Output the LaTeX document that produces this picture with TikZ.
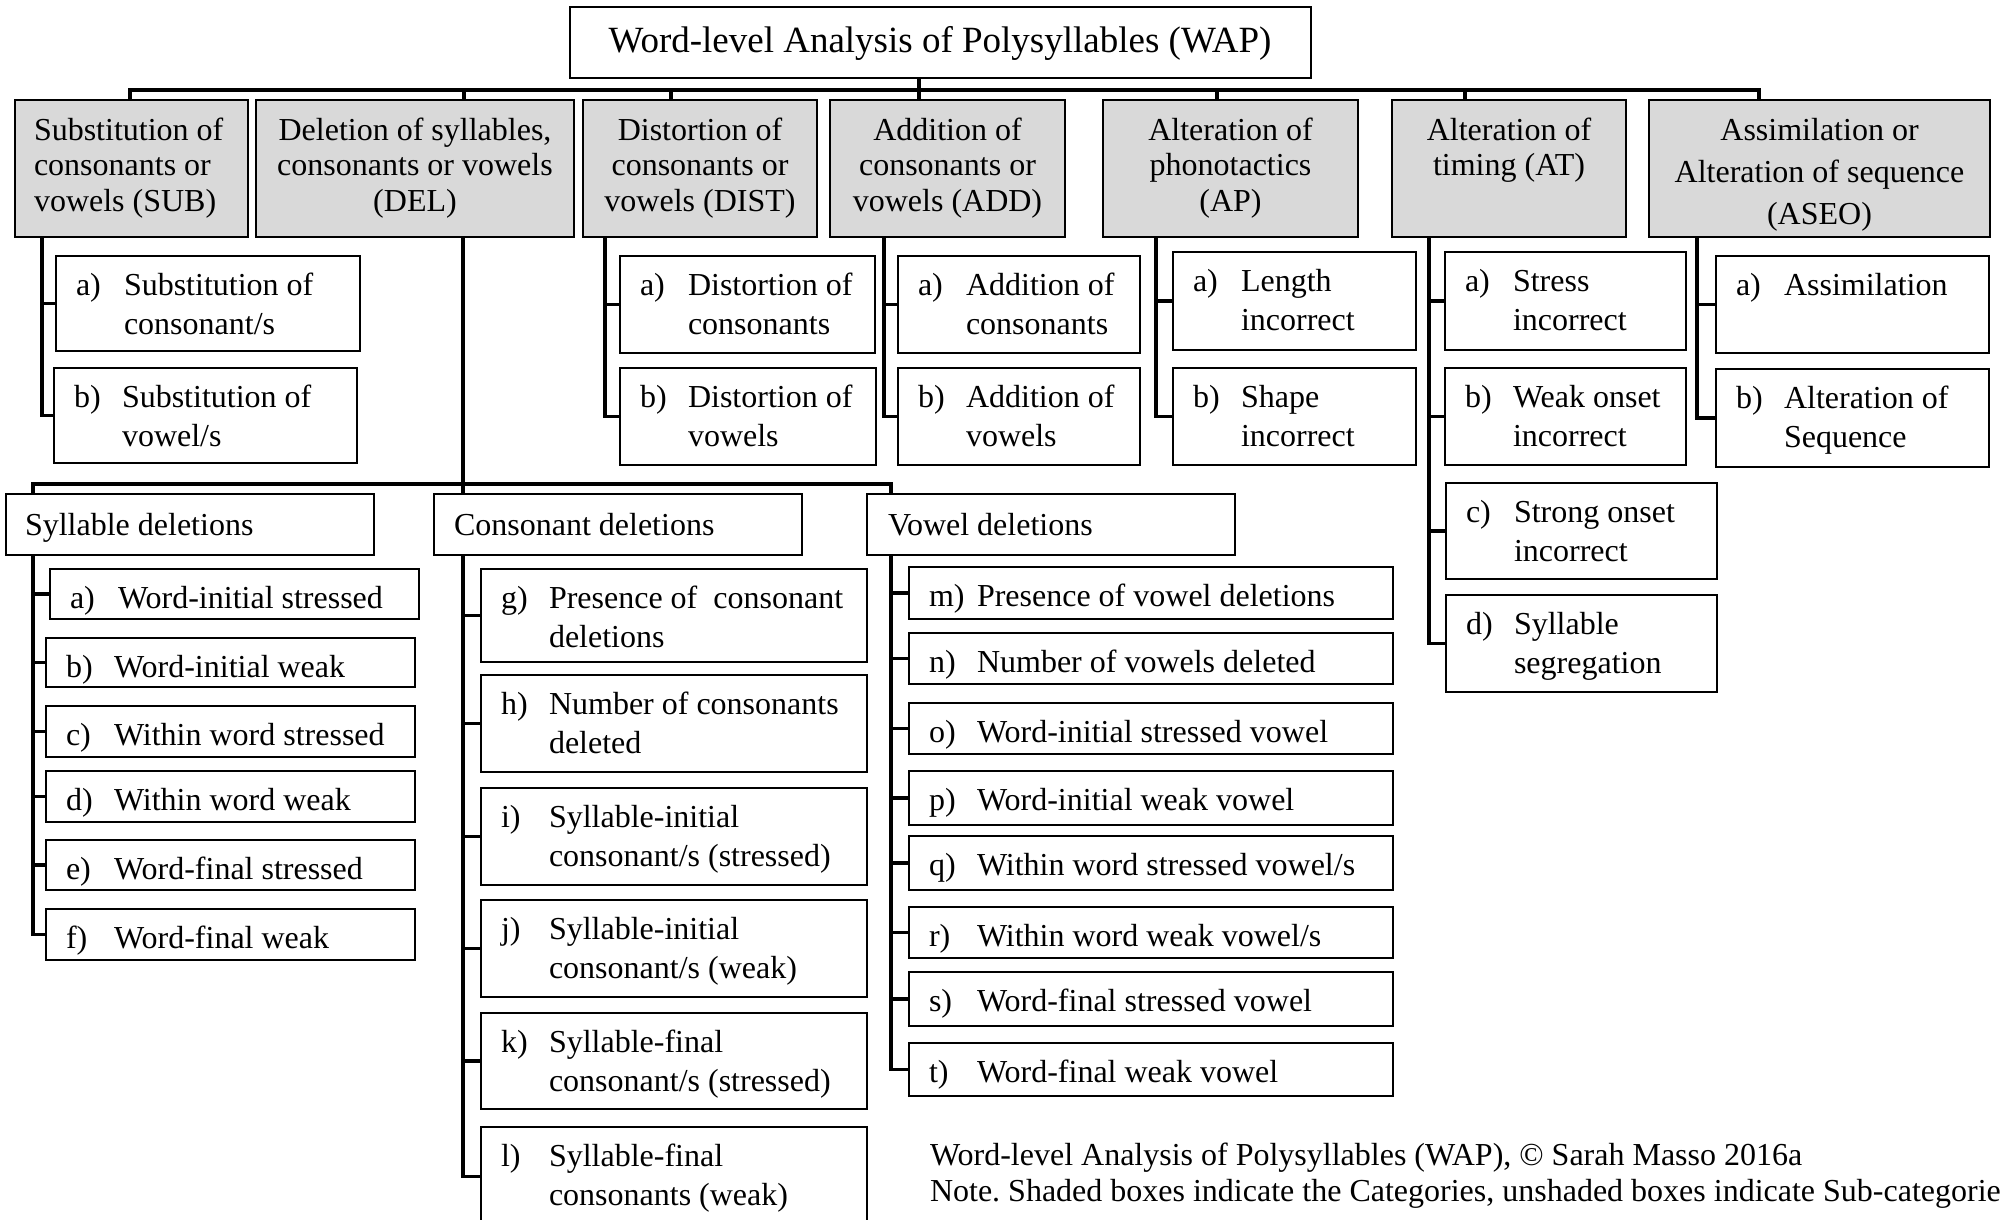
\documentclass[tikz,border=0pt]{standalone}
\usepackage{fontspec}
\setmainfont{Liberation Serif}
\usetikzlibrary{fit}
\definecolor{catgray}{RGB}{217,217,217}
\frenchspacing
\newcommand{\fsz}{\fontsize{32}{39}\selectfont}
\newcommand{\ftitle}{\fontsize{37}{44}\selectfont}
\tikzset{
  frame/.style={draw=black, line width=1.8pt, inner sep=0pt, outer sep=0pt},
  catbox/.style={frame, fill=catgray},
  subbox/.style={frame, fill=white},
  txt/.style={inner sep=0pt, outer sep=0pt, font=\fsz, anchor=base west},
  ctxt/.style={txt, anchor=base},
  conn/.style={draw=black, line width=3.3pt},
}
\newcommand{\boxone}[7]{%
  \node[subbox, fit={(#2,#3)(#4,#5)}] (#1) {};
  \node[txt] (#1-l) at ([xshift=20pt,yshift=-39pt]#1.north west) {#6};
  \node[txt] (#1-t) at ([xshift=68pt,yshift=-39pt]#1.north west) {#7};}
\newcommand{\boxtwo}[8]{%
  \boxone{#1}{#2}{#3}{#4}{#5}{#6}{#7}%
  \node[txt] (#1-u) at ([xshift=68pt,yshift=-78pt]#1.north west) {#8};}
\newcommand{\ctl}[4]{\node[ctxt] (#1) at (#2,#3) {#4};}
\begin{document}
\begin{tikzpicture}[x=1pt, y=-1pt]
\useasboundingbox (0,0) rectangle (2001,1219);
\clip (0,0) rectangle (2001,1219);

% ---------- title ----------
\node[frame, fit={(570,7)(1311,78)}] (title) {};
\node[ctxt, font=\ftitle] (title-t) at (940,52) {Word-level Analysis of Polysyllables (WAP)};

% ---------- categories ----------
\node[catbox, fit={(15,100)(248,237)}] (sub) {};
\node[catbox, fit={(256,100)(574,237)}] (del) {};
\node[catbox, fit={(583,100)(817,237)}] (dist) {};
\node[catbox, fit={(830,100)(1065,237)}] (add) {};
\node[catbox, fit={(1103,100)(1358,237)}] (ap) {};
\node[catbox, fit={(1392,100)(1626,237)}] (at) {};
\node[catbox, fit={(1649,100)(1990,237)}] (aseo) {};

\node[txt] (sub-1) at (34,140) {Substitution of};
\node[txt] (sub-2) at (34,175.5) {consonants or};
\node[txt] (sub-3) at (34,211) {vowels (SUB)};
\ctl{del-1}{415}{140}{Deletion of syllables,}
\ctl{del-2}{415}{175.5}{consonants or vowels}
\ctl{del-3}{415}{211}{(DEL)}
\ctl{dist-1}{700}{140}{Distortion of}
\ctl{dist-2}{700}{175.5}{consonants or}
\ctl{dist-3}{700}{211}{vowels (DIST)}
\ctl{add-1}{947.5}{140}{Addition of}
\ctl{add-2}{947.5}{175.5}{consonants or}
\ctl{add-3}{947.5}{211}{vowels (ADD)}
\ctl{ap-1}{1230.5}{140}{Alteration of}
\ctl{ap-2}{1230.5}{175.5}{phonotactics}
\ctl{ap-3}{1230.5}{211}{(AP)}
\ctl{at-1}{1509}{140}{Alteration of}
\ctl{at-2}{1509}{175.5}{timing (AT)}
\ctl{aseo-1}{1819.5}{140}{Assimilation or}
\ctl{aseo-2}{1819.5}{182}{Alteration of sequence}
\ctl{aseo-3}{1819.5}{224}{(ASEO)}

% ---------- first-level sub-categories ----------
\boxtwo{suba}{56}{256}{360}{351}{a)}{Substitution of}{consonant/s}
\boxtwo{subb}{54}{368}{357}{463}{b)}{Substitution of}{vowel/s}
\boxtwo{dista}{620}{256}{875}{353}{a)}{Distortion of}{consonants}
\boxtwo{distb}{620}{368}{876}{465}{b)}{Distortion of}{vowels}
\boxtwo{adda}{898}{256}{1140}{353}{a)}{Addition of}{consonants}
\boxtwo{addb}{898}{368}{1140}{465}{b)}{Addition of}{vowels}
\boxtwo{apa}{1173}{252}{1416}{350}{a)}{Length}{incorrect}
\boxtwo{apb}{1173}{368}{1416}{465}{b)}{Shape}{incorrect}
\boxtwo{ata}{1445}{252}{1686}{350}{a)}{Stress}{incorrect}
\boxtwo{atb}{1445}{368}{1686}{465}{b)}{Weak onset}{incorrect}
\boxtwo{atc}{1446}{483}{1717}{579}{c)}{Strong onset}{incorrect}
\boxtwo{atd}{1446}{595}{1717}{692}{d)}{Syllable}{segregation}
\boxone{aseoa}{1716}{256}{1989}{353}{a)}{Assimilation}
\boxtwo{aseob}{1716}{369}{1989}{467}{b)}{Alteration of}{Sequence}

% ---------- deletion groups ----------
\node[frame, fit={(6,494)(374,555)}] (syl) {};
\node[frame, fit={(434,494)(802,555)}] (con) {};
\node[frame, fit={(867,494)(1235,555)}] (vow) {};
\node[txt] (syl-t) at (25,535) {Syllable deletions};
\node[txt] (con-t) at (454,535) {Consonant deletions};
\node[txt] (vow-t) at (888,535) {Vowel deletions};

\boxone{syla}{50}{569}{419}{619}{a)}{Word-initial stressed}
\boxone{sylb}{46}{638}{415}{687}{b)}{Word-initial weak}
\boxone{sylc}{46}{706}{415}{757}{c)}{Within word stressed}
\boxone{syld}{46}{771}{415}{822}{d)}{Within word weak}
\boxone{syle}{46}{840}{415}{890}{e)}{Word-final stressed}
\boxone{sylf}{46}{909}{415}{960}{f)}{Word-final weak}

\boxtwo{cong}{481}{569}{867}{662}{g)}{Presence of~ consonant}{deletions}
\boxtwo{conh}{481}{675}{867}{772}{h)}{Number of consonants}{deleted}
\boxtwo{coni}{481}{788}{867}{885}{i)}{Syllable-initial}{consonant/s (stressed)}
\boxtwo{conj}{481}{900}{867}{997}{j)}{Syllable-initial}{consonant/s (weak)}
\boxtwo{conk}{481}{1013}{867}{1109}{k)}{Syllable-final}{consonant/s (stressed)}
\boxtwo{conl}{481}{1127}{867}{1226}{l)}{Syllable-final}{consonants (weak)}

\boxone{vowm}{909}{567}{1393}{619}{m)}{Presence of vowel deletions}
\boxone{vown}{909}{633}{1393}{684}{n)}{Number of vowels deleted}
\boxone{vowo}{909}{703}{1393}{754}{o)}{Word-initial stressed vowel}
\boxone{vowp}{909}{771}{1393}{825}{p)}{Word-initial weak vowel}
\boxone{vowq}{909}{836}{1393}{890}{q)}{Within word stressed vowel/s}
\boxone{vowr}{909}{907}{1393}{958}{r)}{Within word weak vowel/s}
\boxone{vows}{909}{972}{1393}{1026}{s)}{Word-final stressed vowel}
\boxone{vowt}{909}{1043}{1393}{1096}{t)}{Word-final weak vowel}

% ---------- footer ----------
\node[txt] (foot1) at (930,1165) {Word-level Analysis of Polysyllables (WAP), © Sarah Masso 2016a};
\node[txt] (foot2) at (930,1201) {Note. Shaded boxes indicate the Categories, unshaded boxes indicate Sub-categorie};

% ---------- connectors ----------
\coordinate (b1) at (130,90);
\coordinate (b2) at (464,90);
\coordinate (b3) at (671,90);
\coordinate (b4) at (919,90);
\coordinate (b5) at (1217,90);
\coordinate (b6) at (1465,90);
\coordinate (b7) at (1759,90);
\draw[conn] (b1 |- sub.north) -- (b1) -- (b7) -- (b7 |- aseo.north);
\draw[conn] (b2) -- (b2 |- del.north);
\draw[conn] (b3) -- (b3 |- dist.north);
\draw[conn] (title.south -| b4) -- (b4 |- add.north);
\draw[conn] (b5) -- (b5 |- ap.north);
\draw[conn] (b6) -- (b6 |- at.north);

\coordinate (subT) at (42,237);
\draw[conn] (subT) |- (suba.west);
\draw[conn] (subT) |- (subb.west);
\coordinate (distT) at (605,237);
\draw[conn] (distT) |- (dista.west);
\draw[conn] (distT) |- (distb.west);
\coordinate (addT) at (884,237);
\draw[conn] (addT) |- (adda.west);
\draw[conn] (addT) |- (addb.west);
\coordinate (apT) at (1156,237);
\draw[conn] (apT) |- (apa.west);
\draw[conn] (apT) |- (apb.west);
\coordinate (atT) at (1429,237);
\draw[conn] (atT) |- (ata.west);
\draw[conn] (atT) |- (atb.west);
\draw[conn] (atT) |- (atc.west);
\draw[conn] (atT) |- (atd.west);
\coordinate (aseoT) at (1697,237);
\draw[conn] (aseoT) |- (aseoa.west);
\draw[conn] (aseoT) |- (aseob.west);

\coordinate (delT) at (463,237);
\coordinate (s2L) at (33,484);
\coordinate (s2M) at (463,484);
\coordinate (s2R) at (891,484);
\draw[conn] (delT) -- (s2M);
\draw[conn] (s2L |- syl.north) -- (s2L) -- (s2R) -- (s2R |- vow.north);
\draw[conn] (s2M) -- (s2M |- con.north);

\coordinate (sylT) at (33,555);
\foreach \n in {a,b,c,d,e,f} \draw[conn] (sylT) |- (syl\n.west);
\coordinate (conT) at (463,555);
\foreach \n in {g,h,i,j,k,l} \draw[conn] (conT) |- (con\n.west);
\coordinate (vowT) at (891,555);
\foreach \n in {m,n,o,p,q,r,s,t} \draw[conn] (vowT) |- (vow\n.west);
\end{tikzpicture}
\end{document}
